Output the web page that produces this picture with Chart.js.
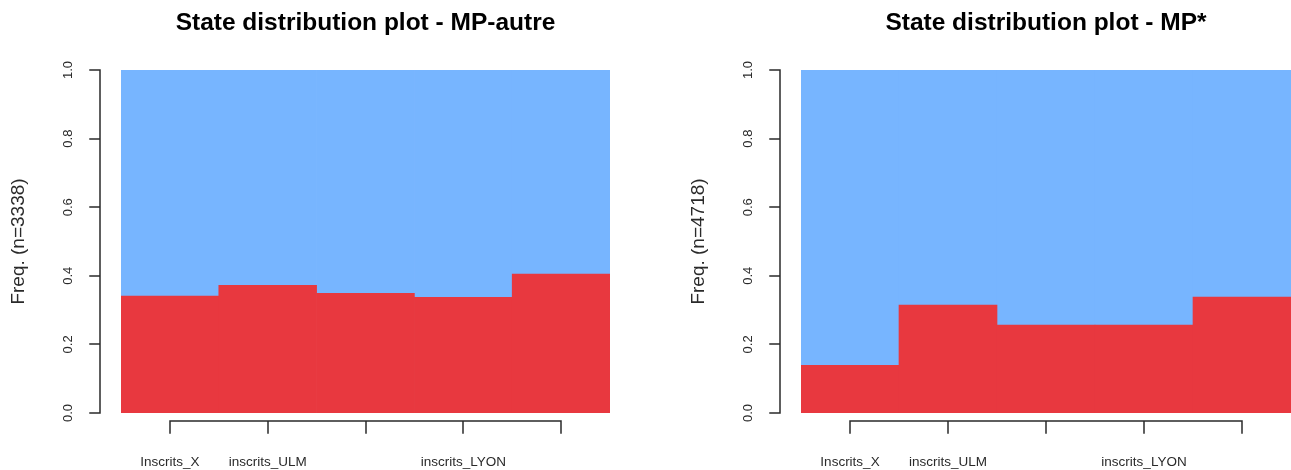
<!DOCTYPE html>
<html>
<head>
<meta charset="utf-8">
<script src="https://cdn.jsdelivr.net/npm/chart.js@4"></script>
<style>
  html, body { margin: 0; padding: 0; background: #ffffff; }
  body { width: 1291px; height: 470px; position: relative; overflow: hidden; }
  canvas { position: absolute; top: 0; }
  #left { left: 0; }
  #right { left: 645px; }
</style>
</head>
<body>
<canvas id="left" width="645" height="470"></canvas>
<canvas id="right" width="646" height="470"></canvas>
<script>
// Time points (x categories); only some of the names are printed under the axis
const categories = ['Inscrits_X', 'inscrits_ULM', '', 'inscrits_LYON', ''];
const yTicks = [0, 0.2, 0.4, 0.6, 0.8, 1.0];

// MP-autre (n=3338): share of each state at every time point
const autreRed  = [0.341, 0.372, 0.349, 0.337, 0.405];
const autreBlue = [0.659, 0.628, 0.651, 0.663, 0.595];

// MP* (n=4718)
const starRed  = [0.139, 0.315, 0.256, 0.256, 0.338];
const starBlue = [0.861, 0.685, 0.744, 0.744, 0.662];

const RED = '#E8383F';
const BLUE = '#77B5FF';
const FONT = '"Liberation Sans", Arial, sans-serif';
const AXIS = '#2a2a2a';

// R-style axes: detached y axis with rotated labels, x axis spanning the tick range
const baseAxes = {
  id: 'baseAxes',
  afterDraw(chart, args, opts) {
    const ctx = chart.ctx;
    const area = chart.chartArea;
    const xs = chart.scales.x;
    const ys = chart.scales.y;
    ctx.save();
    ctx.strokeStyle = AXIS;
    ctx.lineWidth = 1.5;
    ctx.lineCap = 'square';

    // y axis
    const ax = Math.round(area.left - 21);
    const yTop = ys.getPixelForValue(yTicks[yTicks.length - 1]);
    const yBot = ys.getPixelForValue(yTicks[0]);
    ctx.beginPath();
    ctx.moveTo(ax, yTop);
    ctx.lineTo(ax, yBot);
    yTicks.forEach(v => {
      const py = Math.round(ys.getPixelForValue(v));
      ctx.moveTo(ax, py);
      ctx.lineTo(ax - 10, py);
    });
    ctx.stroke();

    ctx.fillStyle = AXIS;
    ctx.font = '13px ' + FONT;
    ctx.textAlign = 'center';
    ctx.textBaseline = 'alphabetic';
    yTicks.forEach(v => {
      const py = ys.getPixelForValue(v);
      ctx.save();
      ctx.translate(ax - 28, py);
      ctx.rotate(-Math.PI / 2);
      ctx.fillText(v.toFixed(1), 0, 0);
      ctx.restore();
    });

    // y axis title
    ctx.save();
    ctx.font = '19px ' + FONT;
    ctx.translate(ax - 76, (yTop + yBot) / 2);
    ctx.rotate(-Math.PI / 2);
    ctx.fillText(opts.yTitle, 0, 0);
    ctx.restore();

    // x axis
    const n = categories.length;
    const x0 = Math.round(xs.getPixelForValue(0));
    const x1 = Math.round(xs.getPixelForValue(n - 1));
    const lineY = Math.round(area.bottom + 8);
    ctx.beginPath();
    ctx.moveTo(x0, lineY);
    ctx.lineTo(x1, lineY);
    for (let i = 0; i < n; i++) {
      const px = Math.round(xs.getPixelForValue(i));
      ctx.moveTo(px, lineY);
      ctx.lineTo(px, lineY + 12);
    }
    ctx.stroke();

    ctx.font = '13.5px ' + FONT;
    for (let i = 0; i < n; i++) {
      if (!categories[i]) continue;
      ctx.fillText(categories[i], xs.getPixelForValue(i), area.bottom + 53);
    }

    // main title
    ctx.fillStyle = '#000000';
    ctx.font = 'bold 24.5px ' + FONT;
    ctx.fillText(opts.title, (area.left + area.right) / 2, 30);
    ctx.restore();
  }
};

function makeChart(id, red, blue, title, yTitle, padLeft, padRight) {
  return new Chart(document.getElementById(id), {
    type: 'bar',
    data: {
      labels: categories,
      datasets: [
        { label: 'state 1', data: red, backgroundColor: RED, borderWidth: 0,
          barPercentage: 1, categoryPercentage: 1 },
        { label: 'state 2', data: blue, backgroundColor: BLUE, borderWidth: 0,
          barPercentage: 1, categoryPercentage: 1 }
      ]
    },
    options: {
      responsive: false,
      animation: false,
      layout: { padding: { left: padLeft, right: padRight, top: 70, bottom: 57 } },
      scales: {
        x: { stacked: true, display: false },
        y: { stacked: true, display: false, min: 0, max: 1 }
      },
      plugins: {
        legend: { display: false },
        tooltip: { enabled: false },
        baseAxes: { title: title, yTitle: yTitle }
      }
    },
    plugins: [baseAxes]
  });
}

makeChart('left', autreRed, autreBlue, 'State distribution plot - MP-autre', 'Freq. (n=3338)', 121, 35);
makeChart('right', starRed, starBlue, 'State distribution plot - MP*', 'Freq. (n=4718)', 156, 0);
</script>
</body>
</html>
